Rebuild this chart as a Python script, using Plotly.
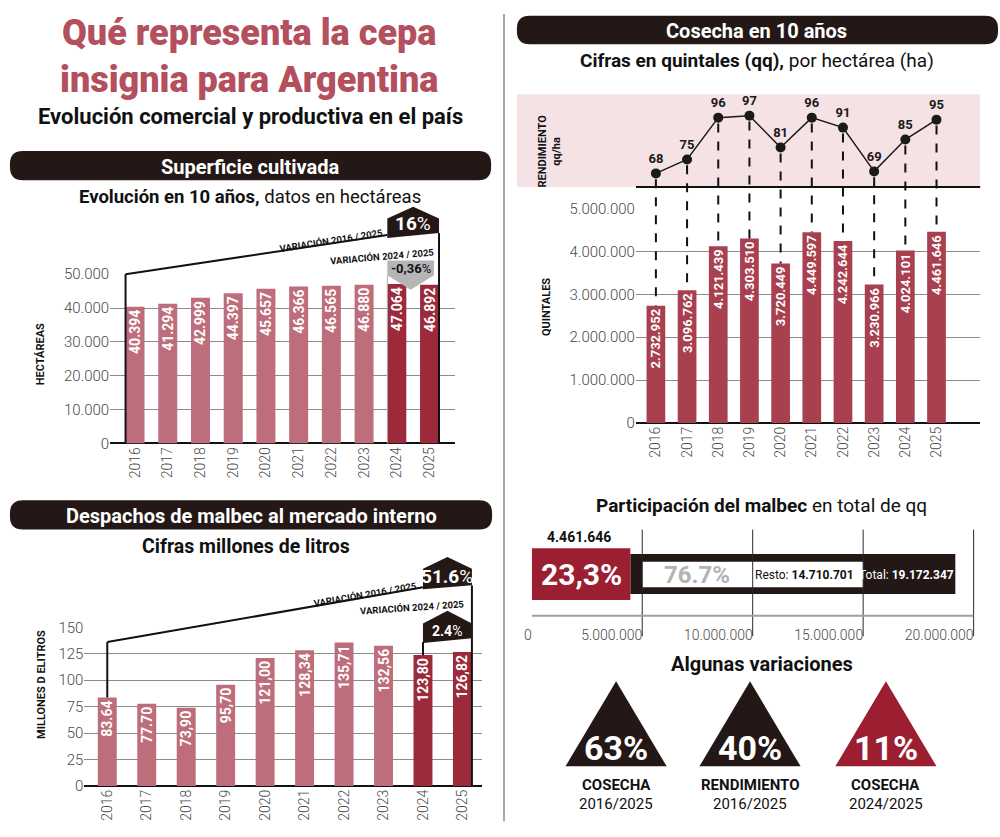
import plotly.graph_objects as go

W, H = 1000, 837

# ---------------- data ----------------
years = [2016, 2017, 2018, 2019, 2020, 2021, 2022, 2023, 2024, 2025]
year_labels = [str(y) for y in years]

superficie_ha = [40394, 41294, 42999, 44397, 45657, 46366, 46565, 46880, 47064, 46892]
superficie_text = ["40.394", "41.294", "42.999", "44.397", "45.657", "46.366", "46.565", "46.880", "47.064", "46.892"]
superficie_ticks = [0, 10000, 20000, 30000, 40000, 50000]
superficie_ticktext = ["0", "10.000", "20.000", "30.000", "40.000", "50.000"]
superficie_var = ["16", "-0,36"]

despachos_ml = [83.64, 77.70, 73.90, 95.70, 121.00, 128.34, 135.71, 132.56, 123.80, 126.82]
despachos_text = ["83.64", "77.70", "73,90", "95,70", "121,00", "128,34", "135,71", "132,56", "123,80", "126,82"]
despachos_ticks = [0, 25, 50, 75, 100, 125, 150]
despachos_var = ["51.6", "2.4"]

cosecha_qq = [2732952, 3096762, 4121439, 4303510, 3720449, 4449597, 4242644, 3230966, 4024101, 4461646]
cosecha_text = ["2.732.952", "3.096.762", "4.121.439", "4.303.510", "3.720.449", "4.449.597", "4.242.644", "3.230.966", "4.024.101", "4.461.646"]
cosecha_ticks = [0, 1000000, 2000000, 3000000, 4000000, 5000000]
cosecha_ticktext = ["0", "1.000.000", "2.000.000", "3.000.000", "4.000.000", "5.000.000"]

rendimiento_qqha = [68, 75, 96, 97, 81, 96, 91, 69, 85, 95]

malbec_qq = 4461646
resto_qq = 14710701
total_qq = 19172347
part_ticks = [0, 5000000, 10000000, 15000000, 20000000]
part_ticktext = ["0", "5.000.000", "10.000.000", "15.000.000", "20.000.000"]

variaciones_pct = ["63%", "40%", "11%"]
variaciones_tit = ["COSECHA", "RENDIMIENTO", "COSECHA"]
variaciones_per = ["2016/2025", "2016/2025", "2024/2025"]

# ---------------- styles ----------------
FONT = "Roboto"
C_LIGHT = "#bd6e7a"
C_DARK = "#9c2a3b"
C_COS = "#a8404f"
C_BLACK = "#231815"
C_TITLE = "#b4505d"
C_PINK = "#f5e2e5"
C_REDBOX = "#9b1f30"
C_GRID = "#8c8c8c"


def fmt(n):
    return f"{n:,}".replace(",", ".")


def P(x):
    return x / W


def Q(y):
    return 1 - y / H


# axis geometry: (pixel start, pixel end, range start, range end)
SX = (103, 451, 2015.24, 2025.79)
SY = (444, 271, 0, 50000)
DX = (77, 478, 2015.42, 2025.50)
DY = (794, 632, 0, 150)
CX = (633, 980, 2015.36, 2026.40)
CY = (423, 204, 0, 5000000)
RY = (182, 87, 61.12, 107.81)
PXA = (528, 973.4, 0, 20000000)
PYA = (630, 532, -1.0, 0.867)

S_BW, D_BW, C_BW = 0.58, 0.48, 0.60


def px_of(ax, v):
    return ax[0] + (v - ax[2]) / (ax[3] - ax[2]) * (ax[1] - ax[0])


def xdom(ax):
    return [ax[0] / W, ax[1] / W]


def ydom(ax):
    return [1 - ax[0] / H, 1 - ax[1] / H]


shapes = []
annotations = []


def line(x0, y0, x1, y1, color="#111", width=2, dash=None, layer="above"):
    d = dict(type="line", xref="paper", yref="paper", x0=P(x0), y0=Q(y0), x1=P(x1), y1=Q(y1),
             line=dict(color=color, width=width), layer=layer)
    if dash:
        d["line"]["dash"] = dash
    shapes.append(d)


def poly(pts, fill, layer="above"):
    path = "M " + " L ".join(f"{P(x):.5f},{Q(y):.5f}" for x, y in pts) + " Z"
    shapes.append(dict(type="path", xref="paper", yref="paper", path=path, fillcolor=fill,
                       line=dict(width=0), layer=layer))


def rect(x0, y0, x1, y1, fill, layer="above"):
    shapes.append(dict(type="rect", xref="paper", yref="paper", x0=P(x0), y0=Q(y1), x1=P(x1), y1=Q(y0),
                       fillcolor=fill, line=dict(width=0), layer=layer))


def rrect(x0, y0, x1, y1, r, fill):
    c = [("M", x0 + r, y0), ("L", x1 - r, y0), ("Q", x1, y0, x1, y0 + r), ("L", x1, y1 - r),
         ("Q", x1, y1, x1 - r, y1), ("L", x0 + r, y1), ("Q", x0, y1, x0, y1 - r), ("L", x0, y0 + r),
         ("Q", x0, y0, x0 + r, y0)]
    parts = []
    for cmd in c:
        nums = cmd[1:]
        coords = []
        for i in range(0, len(nums), 2):
            coords.append(f"{P(nums[i]):.5f},{Q(nums[i + 1]):.5f}")
        parts.append(cmd[0] + " " + " ".join(coords))
    shapes.append(dict(type="path", xref="paper", yref="paper", path=" ".join(parts) + " Z",
                       fillcolor=fill, line=dict(width=0), layer="below"))


def ann(x, y, text, size, color="#111", weight="normal", angle=0, xanchor="center", yanchor="middle"):
    annotations.append(dict(x=P(x), y=Q(y), xref="paper", yref="paper", text=text, showarrow=False,
                            font=dict(size=size, color=color, family=FONT, weight=weight),
                            textangle=angle, xanchor=xanchor, yanchor=yanchor))


fig = go.Figure()

# ---------------- Superficie ----------------
fig.add_trace(go.Bar(
    x=years, y=superficie_ha, width=S_BW, xaxis="x", yaxis="y",
    marker=dict(color=[C_LIGHT] * 8 + [C_DARK] * 2, line=dict(width=0)),
    text=superficie_text, textposition="inside", insidetextanchor="end", textangle=-90,
    constraintext="none", textfont=dict(color="white", size=14, family=FONT, weight="bold")))

# ---------------- Despachos ----------------
fig.add_trace(go.Bar(
    x=years, y=despachos_ml, width=D_BW, xaxis="x2", yaxis="y2",
    marker=dict(color=[C_LIGHT] * 8 + [C_DARK] * 2, line=dict(width=0)),
    text=despachos_text, textposition="inside", insidetextanchor="end", textangle=-90,
    constraintext="none", textfont=dict(color="white", size=14, family=FONT, weight="bold")))

# ---------------- Cosecha ----------------
fig.add_trace(go.Bar(
    x=years, y=cosecha_qq, width=C_BW, xaxis="x3", yaxis="y3",
    marker=dict(color=C_COS, line=dict(width=0)),
    text=cosecha_text, textposition="inside", insidetextanchor="end", textangle=-90,
    constraintext="none", textfont=dict(color="white", size=13, family=FONT, weight="bold")))

fig.add_trace(go.Scatter(
    x=years, y=rendimiento_qqha, xaxis="x4", yaxis="y4", mode="lines+markers+text",
    text=[str(v) for v in rendimiento_qqha], textposition="top center",
    textfont=dict(color="#1a1a1a", size=13, family=FONT, weight="bold"),
    line=dict(color="#1a1a1a", width=1.5), marker=dict(size=10, color="#1a1a1a"), cliponaxis=False))

# ---------------- Participación ----------------
fig.add_trace(go.Bar(
    y=[0], x=[resto_qq], base=[malbec_qq], width=0.78, orientation="h", xaxis="x5", yaxis="y5",
    marker=dict(color=C_BLACK, line=dict(width=0))))
fig.add_trace(go.Bar(
    y=[0], x=[malbec_qq], base=[0], width=1.01, orientation="h", xaxis="x5", yaxis="y5",
    marker=dict(color=C_REDBOX, line=dict(width=0))))

tick_font = dict(size=15, color="#4a4a4a", family=FONT, weight=300)
year_font = dict(size=14, color="#4a4a4a", family=FONT, weight=300)

layout = dict(
    width=W, height=H, margin=dict(l=0, r=0, t=0, b=0),
    paper_bgcolor="white", plot_bgcolor="rgba(0,0,0,0)",
    showlegend=False, barmode="overlay", hovermode=False,
    font=dict(family=FONT),
    xaxis=dict(domain=xdom(SX), range=SX[2:], anchor="y", tickvals=years, ticktext=year_labels,
               tickangle=-90, tickfont=year_font, showgrid=False, zeroline=False, showline=False, ticks=""),
    yaxis=dict(domain=ydom(SY), range=SY[2:], anchor="x", tickvals=superficie_ticks,
               ticktext=superficie_ticktext, tickfont=tick_font, gridcolor=C_GRID, gridwidth=1,
               zeroline=True, zerolinecolor="#111", zerolinewidth=2, showline=False, ticks=""),
    xaxis2=dict(domain=xdom(DX), range=DX[2:], anchor="y2", tickvals=years, ticktext=year_labels,
                tickangle=-90, tickfont=year_font, showgrid=False, zeroline=False, showline=False, ticks=""),
    yaxis2=dict(domain=ydom(DY), range=DY[2:], anchor="x2", tickvals=despachos_ticks,
                ticktext=[str(t) for t in despachos_ticks], tickfont=tick_font, gridcolor=C_GRID,
                gridwidth=1, zeroline=True, zerolinecolor="#111", zerolinewidth=2, showline=False, ticks=""),
    xaxis3=dict(domain=xdom(CX), range=CX[2:], anchor="y3", tickvals=years, ticktext=year_labels,
                tickangle=-90, tickfont=year_font, showgrid=False, zeroline=False, showline=False, ticks=""),
    yaxis3=dict(domain=ydom(CY), range=CY[2:], anchor="x3", tickvals=cosecha_ticks,
                ticktext=cosecha_ticktext, tickfont=tick_font, gridcolor=C_GRID, gridwidth=1,
                zeroline=True, zerolinecolor="#111", zerolinewidth=2, showline=False, ticks=""),
    xaxis4=dict(domain=xdom(CX), range=CX[2:], anchor="y4", visible=False),
    yaxis4=dict(domain=ydom(RY), range=RY[2:], anchor="x4", visible=False),
    xaxis5=dict(domain=xdom(PXA), range=PXA[2:], anchor="y5", tickvals=part_ticks,
                ticktext=part_ticktext, tickfont=dict(size=14, color="#4a4a4a", family=FONT, weight=300),
                ticklabelposition="outside left", showgrid=False, zeroline=False, showline=False, ticks=""),
    yaxis5=dict(domain=ydom(PYA), range=PYA[2:], anchor="x5", visible=False),
)

# ---------------- Titles ----------------
ann(243, 1, "Qué representa la cepa<br>insignia para Argentina", 36, C_TITLE, weight=900, yanchor="top")
ann(244, 110, "Evolución comercial y productiva en el país", 22, "#111", weight="bold")

# divider
line(500, 5, 500, 830, color="#8a8a8a", width=1.5, layer="below")

# section headers
rrect(2, 145, 487, 175, 13, C_BLACK)
ann(244, 161, "Superficie cultivada", 20, "white", weight="bold")
ann(244, 192, "<b>Evolución en 10 años,</b> datos en hectáreas", 18.5, "#111")

rrect(2, 502, 488, 532, 13, C_BLACK)
ann(245, 518, "Despachos de malbec al mercado interno", 20, "white", weight="bold")
ann(240, 549, "Cifras millones de litros", 19.5, "#111", weight="bold")

rrect(513, 7, 998, 36, 13, C_BLACK)
ann(755, 22, "Cosecha en 10 años", 20, "white", weight="bold")
ann(755, 53, "<b>Cifras en quintales (qq),</b> por hectárea (ha)", 19, "#111")

# ---------------- Superficie decorations ----------------
sx_left = px_of(SX, years[0] - S_BW / 2)
sx_2024 = px_of(SX, years[8] - S_BW / 2)
sx_right = px_of(SX, years[9] + S_BW / 2)
sy_top = px_of(SY, superficie_ticks[-1])
sy_0 = px_of(SY, 0)
line(sx_left, sy_0, sx_left, sy_top, width=2)
line(sx_left, sy_top, sx_2024, 231, width=2)
poly([(sx_2024, 234), (sx_2024, 214), ((sx_2024 + sx_right) / 2, 202), (sx_right, 214), (sx_right, 229)], C_BLACK)
line(sx_right, 229, sx_right, sy_0, width=2)
ann((sx_2024 + sx_right) / 2, 219, f"<b>{superficie_var[0]}</b>%", 19, "white")
ann(326, 237, "<b>VARIACIÓN 2016 / 2025</b>", 9.5, "#111", angle=-9)
ann(377, 253, "<b>VARIACIÓN 2024 / 2025</b>", 9.5, "#111", angle=-5)
gx1 = px_of(SX, years[9] - S_BW / 2) + 14
poly([(sx_2024, 257), (gx1, 257), (gx1, 272), ((sx_2024 + gx1) / 2, 287), (sx_2024, 272)], "#b5b5b5")
line(sx_2024, 272, sx_2024, sy_0, color="#b0b0b0", width=1)
ann((sx_2024 + gx1) / 2, 265, f"<b>{superficie_var[1]}</b>%", 13, "#111")
ann(33, 353, "<b>HECTÁREAS</b>", 11, "#111", angle=-90)

# ---------------- Despachos decorations ----------------
dx16 = px_of(DX, years[0])
dx24 = px_of(DX, years[8])
dx_right = px_of(DX, years[9] + D_BW / 2)
dy_0 = px_of(DY, 0)
line(dx16, px_of(DY, despachos_ml[0]), dx16, 647, width=2)
line(dx16, 647, dx24, 591, width=2)
poly([(dx24, 593), (dx24, 572), ((dx24 + dx_right) / 2, 560), (dx_right, 572), (dx_right, 589)], C_BLACK)
line(dx_right, 589, dx_right, dy_0, width=2)
ann((dx24 + dx_right) / 2, 580, f"<b>{despachos_var[0]}</b>%", 19, "white")
ann(360, 598, "<b>VARIACIÓN 2016 / 2025</b>", 9.5, "#111", angle=-10)
ann(407, 612, "<b>VARIACIÓN 2024 / 2025</b>", 9.5, "#111", angle=-4)
poly([(dx24, 648), (dx24, 628), ((dx24 + dx_right) / 2, 615), (dx_right, 628), (dx_right, 643)], C_BLACK)
line(dx24, 647, dx24, px_of(DY, despachos_ml[8]), width=2)
ann((dx24 + dx_right) / 2, 636, f"<b>{despachos_var[1]}</b>%", 14, "white")
ann(33, 690, "<b>MILLONES D ELITROS</b>", 11, "#111", angle=-90)

# ---------------- Cosecha decorations ----------------
rect(513, 87, 980, 182, C_PINK, layer="below")
line(633, 182, 980, 182, color="#111", width=2)
for yr, r, q in zip(years, rendimiento_qqha, cosecha_qq):
    xp = px_of(CX, yr)
    line(xp, px_of(RY, r) + 6, xp, px_of(CY, q), color="#111", width=2, dash="dash")
ann(546, 145, "<b>RENDIMIENTO<br>qq/ha</b>", 11, "#111", angle=-90)
ann(543, 305, "<b>QUINTALES</b>", 11, "#111", angle=-90)

# ---------------- Participación ----------------
ann(760, 507, "<b>Participación del malbec</b> en total de qq", 19, "#111")
rect(px_of(PXA, part_ticks[1]), 565, px_of(PXA, part_ticks[3]), 591, "white")
for t in part_ticks[1:]:
    line(px_of(PXA, t), 532, px_of(PXA, t), 641, color="#2a2a2a", width=1)
line(528, 620, 973, 620, color="#a0a0a0", width=2)
mx_mid = (px_of(PXA, 0) + px_of(PXA, malbec_qq)) / 2
ann(mx_mid - 2, 540, f"<b>{fmt(malbec_qq)}</b>", 14, "#111")
ann(mx_mid, 578, f"<b>{malbec_qq / total_qq * 100:.1f}%</b>".replace(".", ","), 30, "white")
ann(695, 578, f"<b>{resto_qq / total_qq * 100:.1f}%</b>", 24, "#b3b3b3")
ann(803, 578, f"Resto: <b>{fmt(resto_qq)}</b>", 12, "#111")
ann(906, 578, f"Total: <b>{fmt(total_qq)}</b>", 12, "white")

# ---------------- Algunas variaciones ----------------
ann(760, 669, "<b>Algunas variaciones</b>", 20, "#111")
tri_centers = [613, 748, 885]
tri_colors = [C_BLACK, C_BLACK, C_REDBOX]
for cx, col, pct, tit, per in zip(tri_centers, tri_colors, variaciones_pct, variaciones_tit, variaciones_per):
    poly([(cx - 51, 774), (cx, 687), (cx + 51, 774)], col)
    ann(cx, 755, f"<b>{pct}</b>", 34, "white")
    ann(cx, 793, f"<b>{tit}</b>", 15, "#111")
    ann(cx, 812, per, 15, "#111")

layout["shapes"] = shapes
layout["annotations"] = annotations
fig.update_layout(**layout)
fig.write_html("out.html", post_script="document.body.style.margin='0px';document.body.style.overflow='hidden';")
